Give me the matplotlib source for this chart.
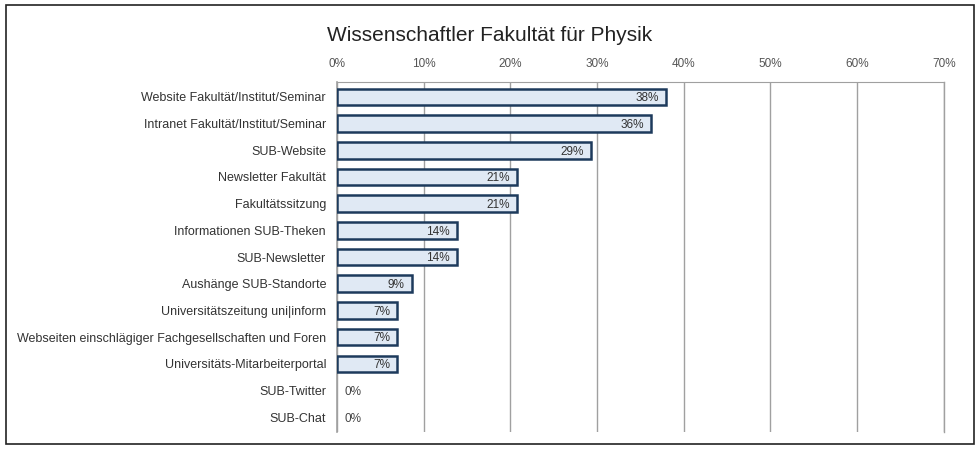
import matplotlib.pyplot as plt
from matplotlib.patches import Rectangle

kategorien = [
    "Website Fakultät/Institut/Seminar",
    "Intranet Fakultät/Institut/Seminar",
    "SUB-Website",
    "Newsletter Fakultät",
    "Fakultätssitzung",
    "Informationen SUB-Theken",
    "SUB-Newsletter",
    "Aushänge SUB-Standorte",
    "Universitätszeitung uni|inform",
    "Webseiten einschlägiger Fachgesellschaften und Foren",
    "Universitäts-Mitarbeiterportal",
    "SUB-Twitter",
    "SUB-Chat",
]
anteile = [37.9, 36.2, 29.3, 20.7, 20.7, 13.8, 13.8, 8.6, 6.9, 6.9, 6.9, 0, 0]
ticks = [0, 10, 20, 30, 40, 50, 60, 70]

plt.rcParams['font.family'] = ['Liberation Sans', 'DejaVu Sans']

fig = plt.figure(figsize=(9.8, 4.49), dpi=100)
fig.patches.append(Rectangle((0.006, 0.012), 0.988, 0.976, transform=fig.transFigure,
                             fill=False, edgecolor='#222222', linewidth=1.2))
ax = fig.add_axes([0.344, 0.038, 0.619, 0.779])

y = list(range(len(kategorien)))
breiten = [1.8 if v > 0 else 0 for v in anteile]
ax.barh(y, anteile, height=0.62, color='#e0e9f4', edgecolor='#1d3a5c', linewidth=breiten, zorder=3)

for yi, v in zip(y, anteile):
    if v > 0:
        ax.text(v - 0.8, yi + 0.05, f"{v:.0f}%", ha='right', va='center', fontsize=8.5, color='#333333', zorder=4)
    else:
        ax.text(0.8, yi + 0.05, "0%", ha='left', va='center', fontsize=8.5, color='#444444', zorder=4)

ax.set_xlim(0, 70)
ax.set_ylim(len(kategorien) - 0.45, -0.55)
ax.set_xticks(ticks)
ax.set_xticklabels([f"{t}%" for t in ticks], fontsize=8.5, color='#555555')
ax.xaxis.tick_top()
ax.tick_params(axis='x', length=0, pad=9)
ax.set_yticks(y)
ax.set_yticklabels(kategorien, fontsize=9, color='#333333')
ax.tick_params(axis='y', length=0, pad=8)
ax.grid(axis='x', color='#a0a0a0', linewidth=1, zorder=0)
ax.spines['bottom'].set_visible(False)
for s in ['left', 'top', 'right']:
    ax.spines[s].set_color('#a0a0a0')
ax.spines['right'].set_linewidth(1)
ax.spines['left'].set_linewidth(1.2)

fig.text(0.5, 0.92, "Wissenschaftler Fakultät für Physik", ha='center', va='center', fontsize=15, color='#222222')

plt.savefig("out.png", dpi=100)
